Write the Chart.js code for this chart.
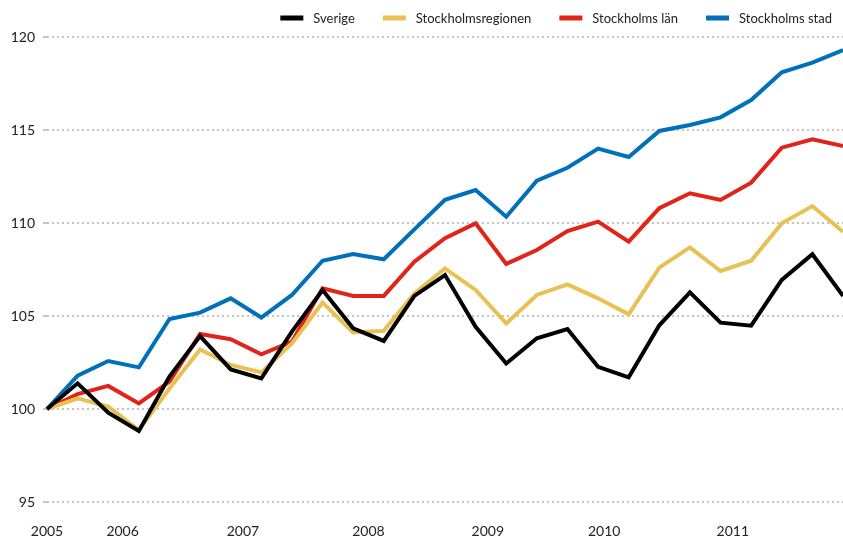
<!DOCTYPE html>
<html><head><meta charset="utf-8">
<script src="https://cdn.jsdelivr.net/npm/chart.js@4/dist/chart.umd.min.js"></script>
<style>html,body{margin:0;padding:0;background:#fff}#wrap{width:843px;height:540px;position:relative}</style>
</head><body><div id="wrap"><canvas id="c"></canvas></div>
<script>
// quarterly observation index (27 observations, 2005 → end of 2011)
const periods = [0,1,2,3,4,5,6,7,8,9,10,11,12,13,14,15,16,17,18,19,20,21,22,23,24,25,26];
// year labels on the x axis and where they sit (in observation units)
const yearLabels = ['2005','2006','2007','2008','2009','2010','2011'];
const yearAt = [0, 2.47, 6.4, 10.5, 14.4, 18.2, 22.4];
const yTicks = [95, 100, 105, 110, 115, 120];

const seriesNames = ['Sverige', 'Stockholmsregionen', 'Stockholms län', 'Stockholms stad'];
const sverige = [100, 101.38, 99.8, 98.82, 101.74, 103.92, 102.13, 101.65, 104.16, 106.4, 104.34, 103.66, 106.08, 107.2, 104.42, 102.45, 103.8, 104.3, 102.27, 101.7, 104.5, 106.27, 104.64, 104.48, 106.94, 108.32, 106.08];
const stockholmsregionen = [100, 100.57, 100.13, 98.87, 101.1, 103.2, 102.37, 101.97, 103.53, 105.72, 104.12, 104.2, 106.22, 107.56, 106.4, 104.6, 106.13, 106.7, 105.95, 105.09, 107.6, 108.69, 107.42, 107.97, 109.98, 110.91, 109.53];
const stockholmsLan = [100, 100.8, 101.24, 100.3, 101.47, 104.03, 103.75, 102.94, 103.62, 106.49, 106.08, 106.08, 107.92, 109.18, 109.98, 107.8, 108.55, 109.57, 110.07, 109.0, 110.8, 111.6, 111.24, 112.17, 114.05, 114.5, 114.14];
const stockholmsStad = [100, 101.79, 102.58, 102.24, 104.84, 105.18, 105.95, 104.92, 106.13, 107.97, 108.33, 108.05, 109.66, 111.25, 111.77, 110.34, 112.27, 112.97, 114.0, 113.55, 114.95, 115.27, 115.68, 116.61, 118.1, 118.62, 119.3];

const colors = ['#000000', '#e8c152', '#e2231a', '#0070bb'];
const allSeries = [sverige, stockholmsregionen, stockholmsLan, stockholmsStad];

const datasets = allSeries.map((vals, i) => ({
  label: seriesNames[i],
  data: vals.map((v, j) => ({x: periods[j], y: v})),
  borderColor: colors[i],
  backgroundColor: colors[i],
  borderWidth: 4,
  pointRadius: 0,
  tension: 0,
  borderJoinStyle: 'miter',
  clip: 4
}));

const FONT = 'Lato, "Open Sans", sans-serif';

// legend drawn in the top-right corner from the datasets
const topLegend = {
  id: 'topLegend',
  afterDraw(chart) {
    const ctx = chart.ctx;
    ctx.save();
    ctx.font = '13px ' + FONT;
    ctx.textBaseline = 'middle';
    ctx.textAlign = 'left';
    const box = 23, gapIn = 10, gapOut = 28, cy = 18;
    const items = chart.data.datasets.map(d => ({ label: d.label, color: d.borderColor, w: ctx.measureText(d.label).width }));
    let total = items.reduce((s, it) => s + box + gapIn + it.w, 0) + gapOut * (items.length - 1);
    let x = 832 - total;
    items.forEach(it => {
      ctx.fillStyle = it.color;
      ctx.fillRect(x, cy - 2.5, box, 5);
      x += box + gapIn;
      ctx.fillStyle = '#222';
      ctx.fillText(it.label, x, cy + 1);
      x += it.w + gapOut;
    });
    ctx.restore();
  }
};

new Chart(document.getElementById('c'), {
  type: 'line',
  data: { datasets },
  plugins: [topLegend],
  options: {
    responsive: true,
    maintainAspectRatio: false,
    animation: false,
    events: [],
    layout: { padding: { left: 0, right: 0, top: 37, bottom: 0 } },
    plugins: {
      tooltip: { enabled: false },
      legend: { display: false }
    },
    scales: {
      x: {
        type: 'linear',
        min: periods[0],
        max: periods[periods.length - 1],
        grid: { display: false, drawTicks: false },
        border: { display: false },
        afterBuildTicks: (axis) => { axis.ticks = yearAt.map(v => ({ value: v })); },
        afterFit: (axis) => { axis.height = 38; },
        ticks: {
          autoSkip: false,
          maxRotation: 0,
          padding: 21,
          color: '#222',
          font: { family: FONT, size: 14 },
          callback: (value) => {
            const k = yearAt.indexOf(value);
            return k >= 0 ? yearLabels[k] : '';
          }
        }
      },
      y: {
        min: yTicks[0],
        max: yTicks[yTicks.length - 1],
        afterBuildTicks: (axis) => { axis.ticks = yTicks.map(v => ({ value: v })); },
        afterFit: (axis) => { axis.width = 47; },
        grid: { color: '#c4c4c4', lineWidth: 2, tickLength: 4 },
        border: { display: false, dash: [2, 3] },
        ticks: {
          padding: 8,
          color: '#222',
          font: { family: FONT, size: 14 }
        }
      }
    }
  }
});
</script>
</body></html>
